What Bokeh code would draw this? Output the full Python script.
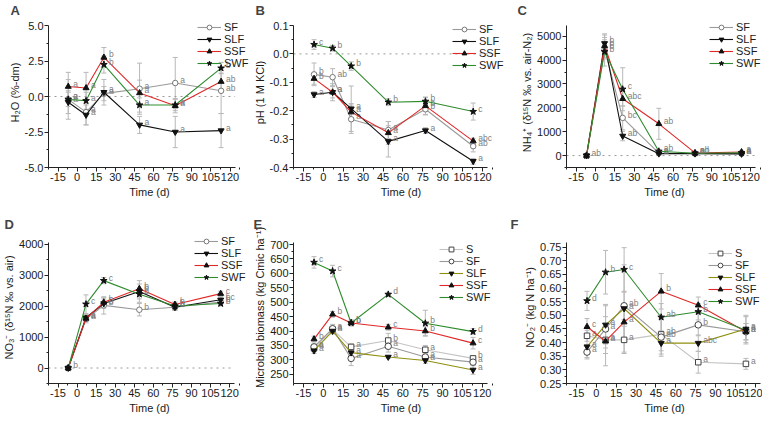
from bokeh.plotting import figure
from bokeh.layouts import gridplot
from bokeh.models import (ColumnDataSource, Whisker, TeeHead, FixedTicker,
                          NumeralTickFormatter, Legend, LegendItem, Range1d, Title)
from bokeh.core.properties import value
from bokeh.embed import file_html
from bokeh.resources import INLINE

FONT = "Liberation Sans"

time = [-7, 7, 21, 49, 77, 113]
x_ticks = [-15, 0, 15, 30, 45, 60, 75, 90, 105, 120]
XMIN, XMAX = -22.5, 124

# ---------------- Panel A: H2O (%-dm) ----------------
a_SF = [-0.2, -1.1, 0.2, 0.55, 0.95, 0.4]
a_SLF = [-0.4, -1.3, 0.3, -2.0, -2.5, -2.4]
a_SSF = [0.7, 0.6, 2.75, 0.25, -0.65, 1.05]
a_SWF = [-0.2, -0.3, 2.25, -0.6, -0.6, 2.0]
a_SF_err = [1.4, 0.9, 0.5, 1.8, 1.8, 1.6]
a_SLF_err = [0.8, 0.7, 0.9, 0.6, 1.1, 1.2]
a_SSF_err = [1.0, 1.1, 0.7, 0.9, 0.5, 0.6]
a_SWF_err = [0.5, 0.6, 0.6, 0.5, 0.4, 0.4]
a_SF_let = ['a', 'a', 'a', 'a', 'a', 'ab']
a_SLF_let = ['a', 'a', 'a', 'a', 'a', 'a']
a_SSF_let = ['a', 'a', 'b', 'a', 'a', 'ab']
a_SWF_let = ['a', 'a', 'b', 'a', 'a', 'b']

# ---------------- Panel B: pH ----------------
b_SF = [-0.072, -0.082, -0.23, -0.268, -0.195, -0.325]
b_SLF = [-0.143, -0.135, -0.193, -0.308, -0.27, -0.378]
b_SSF = [-0.087, -0.135, -0.205, -0.278, -0.183, -0.307]
b_SWF = [0.033, 0.02, -0.043, -0.17, -0.167, -0.203]
b_SF_err = [0.04, 0.03, 0.05, 0.03, 0.02, 0.02]
b_SLF_err = [0.01, 0.03, 0.08, 0.055, 0.01, 0.01]
b_SSF_err = [0.02, 0.02, 0.03, 0.04, 0.03, 0.01]
b_SWF_err = [0.017, 0.01, 0.015, 0.012, 0.015, 0.03]
b_SF_let = ['b', 'ab', 'a', 'a', 'b', 'ab']
b_SLF_let = ['a', 'a', 'a', 'a', 'a', 'a']
b_SSF_let = ['b', 'a', 'a', 'a', 'b', 'abc']
b_SWF_let = ['c', 'b', 'b', 'b', 'b', 'c']

# ---------------- Panel C: NH4+ ----------------
c_SF = [0, 4450, 1580, 100, 90, 80]
c_SLF = [0, 4700, 820, 80, 80, 70]
c_SSF = [0, 4600, 2380, 1330, 110, 150]
c_SWF = [0, 4350, 2780, 180, 100, 120]
c_SF_err = [0, 400, 500, 50, 30, 30]
c_SLF_err = [0, 350, 200, 50, 30, 30]
c_SSF_err = [0, 500, 300, 650, 30, 50]
c_SWF_err = [0, 600, 900, 80, 30, 50]
c_SF_let = ['', 'b', 'bc', 'a', 'a', 'a']
c_SLF_let = ['ab', 'b', 'ab', 'a', 'a', 'a']
c_SSF_let = ['', 'b', 'abc', 'ab', 'cd', 'a']
c_SWF_let = ['', 'b', 'c', 'ab', 'ab', 'a']

# ---------------- Panel D: NO3- ----------------
d_SF = [0, 1580, 2020, 1880, 1960, 2130]
d_SLF = [0, 1620, 2080, 2470, 1960, 2200]
d_SSF = [0, 1600, 2120, 2560, 2050, 2400]
d_SWF = [0, 2060, 2820, 2380, 2000, 2080]
d_SF_err = [0, 120, 280, 200, 100, 100]
d_SLF_err = [0, 100, 150, 350, 100, 100]
d_SSF_err = [0, 100, 150, 150, 80, 80]
d_SWF_err = [0, 300, 100, 150, 100, 80]
d_SF_let = ['', 'a', 'b', 'b', 'b', 'b']
d_SLF_let = ['b', 'a', 'b', 'b', 'b', 'bc']
d_SSF_let = ['', 'a', 'b', 'b', 'b', 'c']
d_SWF_let = ['', 'c', 'c', 'b', 'b', 'b']

# ---------------- Panel E: Microbial biomass ----------------
e_S = [340, 405, 345, 367, 335, 305]
e_SF = [345, 408, 305, 347, 310, 292]
e_SLF = [332, 400, 325, 310, 298, 265]
e_SSF = [372, 458, 428, 413, 400, 358]
e_SWF = [638, 608, 428, 527, 427, 398]
e_S_err = [10, 10, 10, 25, 15, 10]
e_SF_err = [10, 15, 25, 20, 10, 10]
e_SLF_err = [10, 10, 10, 5, 10, 15]
e_SSF_err = [10, 10, 10, 10, 15, 20]
e_SWF_err = [20, 20, 10, 5, 45, 10]
e_S_let = ['a', 'a', 'a', 'b', 'a', 'b']
e_SF_let = ['a', 'a', 'a', 'a', 'a', 'a']
e_SLF_let = ['a', 'a', 'a', 'a', 'a', 'a']
e_SSF_let = ['b', 'b', 'b', 'c', 'b', 'c']
e_SWF_let = ['c', 'c', 'b', 'd', 'b', 'd']

# ---------------- Panel F: NO2- ----------------
f_S = [0.425, 0.41, 0.41, 0.43, 0.328, 0.322]
f_SF = [0.365, 0.45, 0.535, 0.42, 0.465, 0.44]
f_SLF = [0.385, 0.465, 0.525, 0.398, 0.398, 0.45]
f_SSF = [0.458, 0.405, 0.475, 0.588, 0.537, 0.44]
f_SWF = [0.553, 0.658, 0.668, 0.493, 0.513, 0.445]
f_S_err = [0.02, 0.03, 0.05, 0.06, 0.04, 0.02]
f_SF_err = [0.025, 0.09, 0.05, 0.07, 0.04, 0.03]
f_SLF_err = [0.04, 0.07, 0.16, 0.04, 0.03, 0.05]
f_SSF_err = [0.03, 0.09, 0.06, 0.065, 0.03, 0.03]
f_SWF_err = [0.035, 0.08, 0.08, 0.05, 0.03, 0.05]
f_S_let = ['a', 'a', 'a', 'ab', 'a', 'a']
f_SF_let = ['a', 'a', 'ab', 'ab', 'b', 'a']
f_SLF_let = ['a', 'a', 'a', 'a', 'abc', 'a']
f_SSF_let = ['c', 'a', 'a', 'b', 'c', 'a']
f_SWF_let = ['d', 'b', 'c', 'ab', 'b', 'a']

STYLE = {
    'S': dict(line='#c4c4c4', marker='square', fill='white', edge='#444444', size=5.5),
    'SF': dict(line='#9a9a9a', marker='circle', fill='white', edge='#777777', size=5.5),
    'SLF': dict(line='#111111', marker='inverted_triangle', fill='#111111', edge='#111111', size=6),
    'SSF': dict(line='#e02828', marker='triangle', fill='#111111', edge='#111111', size=6),
    'SWF': dict(line='#2e8b2e', marker='star', fill='#111111', edge='#111111', size=7),
}


def make_panel(letter, series, yr, yticks, ymin_ticks, fmt, ylabel,
               fw, fh, bl, bt, bb, xlen, ytop_off, leg_x, leg_gap,
               zero=True, slf_color=None, edge_sf=None, sf_size=None):
    wf = fw - bl
    hf = fh - bt - bb
    x_end = XMIN + wf * (XMAX - XMIN) / xlen
    ylen = hf - ytop_off
    y_end = yr[0] + hf * (yr[1] - yr[0]) / ylen
    p = figure(width=fw, height=fh, output_backend="svg", toolbar_location=None,
               x_range=Range1d(XMIN, x_end), y_range=Range1d(yr[0], y_end),
               min_border_left=bl, min_border_right=0, min_border_top=bt,
               min_border_bottom=bb)
    p.outline_line_color = None
    p.grid.visible = False
    p.background_fill_color = None
    p.border_fill_color = None
    p.title.text = letter
    p.title.text_font = FONT
    p.title.text_font_size = "13px"
    p.title.text_font_style = "bold"
    p.title.align = "left"
    p.title.offset = -bl + 2
    p.title.standoff = 0
    p.title.vertical_align = "bottom"

    p.xaxis.ticker = FixedTicker(ticks=x_ticks,
                                 minor_ticks=[t + 7.5 for t in [-30] + x_ticks])
    p.yaxis.ticker = FixedTicker(ticks=yticks, minor_ticks=ymin_ticks)
    p.xaxis.bounds = (XMIN, XMAX)
    p.yaxis.bounds = (yr[0], yr[1])
    p.xaxis.formatter = NumeralTickFormatter(format="0")
    p.yaxis.formatter = NumeralTickFormatter(format=fmt)
    p.yaxis.axis_label = ylabel
    for ax in (p.xaxis, p.yaxis):
        ax.axis_label_text_font = FONT
        ax.axis_label_text_font_size = "11px"
        ax.axis_label_text_font_style = "normal"
        ax.axis_label_text_color = "#1a1a1a"
        ax.axis_label_standoff = 1
        ax.major_label_text_font = FONT
        ax.major_label_text_font_size = "11px"
        ax.major_label_text_color = "#1a1a1a"
        ax.major_label_standoff = 1
        ax.major_tick_out = 4
        ax.major_tick_in = 0
        ax.minor_tick_out = 2
        ax.minor_tick_in = 0
        ax.axis_line_color = "#222222"
        ax.major_tick_line_color = "#222222"
        ax.minor_tick_line_color = "#222222"
    xt = Title(text="Time (d)", align="center", text_font=FONT, text_font_size="11px",
               text_font_style="normal", text_color="#1a1a1a", standoff=0,
               offset=-(wf - xlen) / 2)
    p.add_layout(xt, "below")

    if zero:
        p.segment(x0=XMIN, y0=0, x1=XMAX, y1=0, line_color="#9a9a9a",
                  line_dash="dotted", line_width=1)

    for name, vals, errs, lets in series:
        xs = [t for t, e in zip(time, errs) if e > 0]
        up = [v + e for v, e in zip(vals, errs) if e > 0]
        lo = [v - e for v, e in zip(vals, errs) if e > 0]
        wsrc = ColumnDataSource(dict(x=xs, upper=up, lower=lo))
        p.add_layout(Whisker(source=wsrc, base="x", upper="upper", lower="lower",
                             line_color="#b8b8b8", line_width=1,
                             upper_head=TeeHead(size=5, line_color="#b8b8b8", line_width=1),
                             lower_head=TeeHead(size=5, line_color="#b8b8b8", line_width=1)))
    items = []
    for name, vals, errs, lets in series:
        st = dict(STYLE[name])
        if name == 'SLF' and slf_color:
            st['line'] = slf_color
        if name == 'SF' and edge_sf:
            st['edge'] = edge_sf
        if name == 'SF' and sf_size:
            st['size'] = sf_size
        src = ColumnDataSource(dict(x=time, y=vals, t=lets))
        lr = p.line("x", "y", source=src, line_color=st['line'], line_width=1.1)
        sr = p.scatter("x", "y", source=src, marker=st['marker'], size=st['size'],
                       fill_color=st['fill'], line_color=st['edge'], line_width=1)
        p.text("x", "y", text="t", source=src, x_offset=5, y_offset=-3,
               text_font=value(FONT), text_font_size="8.5px", text_color="#808080",
               text_baseline="middle", text_align="left")
        items.append(LegendItem(label=name, renderers=[lr, sr]))

    leg_h = len(series) * 12 + 4
    leg = Legend(items=items, location=(leg_x, hf - leg_h - leg_gap),
                 background_fill_alpha=0, border_line_color=None, label_text_font=FONT,
                 label_text_font_size="11px", label_text_color="#1a1a1a",
                 glyph_width=24, glyph_height=12, label_height=12, spacing=0,
                 padding=2, margin=0, label_standoff=3)
    p.add_layout(leg)
    return p


H1, H2 = 205, 216
BT1, BT2, BB = 17, 26, 38
pA = make_panel("A", [('SF', a_SF, a_SF_err, a_SF_let), ('SLF', a_SLF, a_SLF_err, a_SLF_let),
                      ('SSF', a_SSF, a_SSF_err, a_SSF_let), ('SWF', a_SWF, a_SWF_err, a_SWF_let)],
                (-5, 5), [-5, -2.5, 0, 2.5, 5], [-3.75, -1.25, 1.25, 3.75], "0.0",
                "H₂O (%-dm)", 250, H1, 40, BT1, BB, 194, 8, 149, 0)
pB = make_panel("B", [('SF', b_SF, b_SF_err, b_SF_let), ('SLF', b_SLF, b_SLF_err, b_SLF_let),
                      ('SSF', b_SSF, b_SSF_err, b_SSF_let), ('SWF', b_SWF, b_SWF_err, b_SWF_let)],
                (-0.4, 0.1), [-0.4, -0.3, -0.2, -0.1, 0.0, 0.1],
                [-0.35, -0.25, -0.15, -0.05, 0.05], "0.0",
                "pH (1 M KCl)", 258, H1, 40, BT1, BB, 197, 8, 159, 2)
pC = make_panel("C", [('SF', c_SF, c_SF_err, c_SF_let), ('SLF', c_SLF, c_SLF_err, c_SLF_let),
                      ('SSF', c_SSF, c_SSF_err, c_SSF_let), ('SWF', c_SWF, c_SWF_err, c_SWF_let)],
                (-500, 5450), [0, 1000, 2000, 3000, 4000, 5000],
                [-500, 500, 1500, 2500, 3500, 4500], "0",
                "NH₄⁺ (δ¹⁵N ‰ vs. air-N₂)", 254, H1, 51, BT1, BB, 196, 8, 143, 0)
pD = make_panel("D", [('SF', d_SF, d_SF_err, d_SF_let), ('SLF', d_SLF, d_SLF_err, d_SLF_let),
                      ('SSF', d_SSF, d_SSF_err, d_SSF_let), ('SWF', d_SWF, d_SWF_err, d_SWF_let)],
                (-500, 4050), [0, 1000, 2000, 3000, 4000],
                [-500, 500, 1500, 2500, 3500], "0",
                "NO₃⁻ (δ¹⁵N ‰ vs. air)", 250, H2, 46, BT2, BB, 188, 11, 146, 0)
pE = make_panel("E", [('S', e_S, e_S_err, e_S_let), ('SF', e_SF, e_SF_err, e_SF_let),
                      ('SLF', e_SLF, e_SLF_err, e_SLF_let), ('SSF', e_SSF, e_SSF_err, e_SSF_let),
                      ('SWF', e_SWF, e_SWF_err, e_SWF_let)],
                (218, 707), [250, 300, 350, 400, 450, 500, 550, 600, 650, 700],
                [275, 325, 375, 425, 475, 525, 575, 625, 675], "0",
                "Microbial biomass (kg Cmic ha⁻¹)", 258, H2, 42, BT2, BB, 195, 11, 146, 8,
                zero=False, slf_color="#8f8f10", edge_sf="#444444", sf_size=6.5)
pF = make_panel("F", [('S', f_S, f_S_err, f_S_let), ('SF', f_SF, f_SF_err, f_SF_let),
                      ('SLF', f_SLF, f_SLF_err, f_SLF_let), ('SSF', f_SSF, f_SSF_err, f_SSF_let),
                      ('SWF', f_SWF, f_SWF_err, f_SWF_let)],
                (0.25, 0.767), [0.25, 0.30, 0.35, 0.40, 0.45, 0.50, 0.55, 0.60, 0.65, 0.70, 0.75],
                [0.275, 0.325, 0.375, 0.425, 0.475, 0.525, 0.575, 0.625, 0.675, 0.725], "0.00",
                "NO₂⁻ (kg N ha⁻¹)", 254, H2, 58, BT2, BB, 194, 11, 142, 12,
                zero=False, slf_color="#8f8f10", edge_sf="#444444", sf_size=6.5)

grid = gridplot([[pA, pB, pC], [pD, pE, pF]], toolbar_location=None)
open("out.html", "w").write(file_html(grid, INLINE))
